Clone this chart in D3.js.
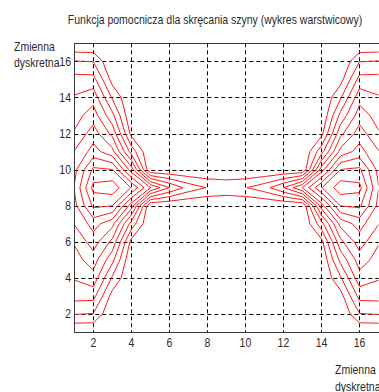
<!DOCTYPE html>
<html>
<head>
<meta charset="utf-8">
<script src="https://cdn.jsdelivr.net/npm/d3@7"></script>
<style>
  body { margin: 0; background: #fff; }
  svg { display: block; }
  text { font-family: "Liberation Sans", Arial, sans-serif; fill: #2b2b2b; }
</style>
</head>
<body>
<svg class="canvas" width="379" height="392"></svg>
<script>
// helper function values on the 17 x 17 grid, first row is y = 1
const zRows = [
  [0, 0, 0, 0, 0, 0, 0, 0, 0, 0, 0, 0, 0, 0, 0, 0, 0],
  [2.05, 1.96, 0, 0, 0, 0, 0, 0, 0, 0, 0, 0, 0, 0, 0, 1.96, 2.05],
  [3.37, 3.35, 0.6, 0, 0, 0, 0, 0, 0, 0, 0, 0, 0, 0, 0.6, 3.35, 3.37],
  [4.09, 4.63, 1.87, 0, 0, 0, 0, 0, 0, 0, 0, 0, 0, 0, 1.87, 4.63, 4.09],
  [4.6, 5.49, 3.3, 0.05, 0, 0, 0, 0, 0, 0, 0, 0, 0, 0.05, 3.3, 5.49, 4.6],
  [5.1, 6.51, 4.71, 0.7, 0, 0, 0, 0, 0, 0, 0, 0, 0, 0.7, 4.71, 6.51, 5.1],
  [6.05, 7.4, 6.33, 2.6, 0, 0, 0, 0, 0, 0, 0, 0, 0, 2.6, 6.33, 7.4, 6.05],
  [6.7, 9.2, 9.02, 5.5, 0, 0, 0, 0, 0, 0, 0, 0, 0, 5.5, 9.02, 9.2, 6.7],
  [7.05, 10.3, 10.6, 8.95, 6.05, 3.98, 2.6, 1.95, 1.75, 1.95, 2.6, 3.98, 6.05, 8.95, 10.6, 10.3, 7.05],
  [6.7, 9.2, 9.02, 5.5, 0, 0, 0, 0, 0, 0, 0, 0, 0, 5.5, 9.02, 9.2, 6.7],
  [6.05, 7.4, 6.33, 2.6, 0, 0, 0, 0, 0, 0, 0, 0, 0, 2.6, 6.33, 7.4, 6.05],
  [5.1, 6.51, 4.71, 0.7, 0, 0, 0, 0, 0, 0, 0, 0, 0, 0.7, 4.71, 6.51, 5.1],
  [4.6, 5.49, 3.3, 0.05, 0, 0, 0, 0, 0, 0, 0, 0, 0, 0.05, 3.3, 5.49, 4.6],
  [4.09, 4.63, 1.87, 0, 0, 0, 0, 0, 0, 0, 0, 0, 0, 0, 1.87, 4.63, 4.09],
  [3.37, 3.35, 0.6, 0, 0, 0, 0, 0, 0, 0, 0, 0, 0, 0, 0.6, 3.35, 3.37],
  [2.05, 1.96, 0, 0, 0, 0, 0, 0, 0, 0, 0, 0, 0, 0, 0, 1.96, 2.05],
  [0, 0, 0, 0, 0, 0, 0, 0, 0, 0, 0, 0, 0, 0, 0, 0, 0]
];
const levels = [1, 2, 3, 4, 5, 6, 7, 8, 9, 10];
const xTicks = [2, 4, 6, 8, 10, 12, 14, 16];
const yTicks = [2, 4, 6, 8, 10, 12, 14, 16];
const title = "Funkcja pomocnicza dla skręcania szyny (wykres warstwicowy)";
const axisName = ["Zmienna", "dyskretna"];

var svg = d3.select(".canvas");
var nx = zRows[0].length;
var ny = zRows.length;

var x = d3.scaleLinear().domain([1, nx]).range([74.3, 378.5]);
var y = d3.scaleLinear().domain([1, ny]).range([332, 43.3]);

// text is a bit narrower than Arial in the original
function label(sel, tx, ty, anchor) {
  return sel.append("text")
    .attr("transform", `translate(${tx},${ty}) scale(0.84,1)`)
    .attr("text-anchor", anchor)
    .style("font-size", "12.5px");
}

svg.append("defs")
  .append("clipPath")
  .attr("id", "plot-clip")
  .append("rect")
  .attr("x", x(1))
  .attr("y", y(ny))
  .attr("width", x(nx) - x(1))
  .attr("height", y(1) - y(ny));

// dashed grid
var grid = svg.append("g").attr("class", "grid")
  .attr("stroke", "#000")
  .attr("stroke-width", 1)
  .attr("stroke-dasharray", "4,3");

grid.selectAll("line.gx")
  .data(xTicks)
  .enter()
  .append("line")
  .attr("class", "gx")
  .attr("x1", d => Math.round(x(d)) + 0.5)
  .attr("x2", d => Math.round(x(d)) + 0.5)
  .attr("y1", y(ny))
  .attr("y2", y(1));

grid.selectAll("line.gy")
  .data(yTicks)
  .enter()
  .append("line")
  .attr("class", "gy")
  .attr("y1", d => Math.round(y(d)) + 0.5)
  .attr("y2", d => Math.round(y(d)) + 0.5)
  .attr("x1", x(1))
  .attr("x2", x(nx));

// contour lines, grid sample i sits at contour coordinate i + 0.5
var contours = d3.contours()
  .size([nx, ny])
  .thresholds(levels)(zRows.flat());

var toScreen = d3.geoTransform({
  point: function (cx, cy) {
    this.stream.point(x(cx + 0.5), y(cy + 0.5));
  }
});

svg.append("g")
  .attr("clip-path", "url(#plot-clip)")
  .selectAll("path")
  .data(contours)
  .enter()
  .append("path")
  .attr("d", d3.geoPath(toScreen))
  .attr("fill", "none")
  .attr("stroke", "#ff1a1a")
  .attr("stroke-width", 1)
  .attr("stroke-linejoin", "round");

// frame
svg.append("rect")
  .attr("x", Math.round(x(1)) + 0.5)
  .attr("y", Math.round(y(ny)) + 0.5)
  .attr("width", Math.round(x(nx)) - Math.round(x(1)))
  .attr("height", Math.round(y(1)) - Math.round(y(ny)))
  .attr("fill", "none")
  .attr("stroke", "#3a3a3a")
  .attr("stroke-width", 1);

// tick labels
xTicks.forEach(function (t) {
  label(svg, x(t), 347, "middle").text(t);
});
yTicks.forEach(function (t) {
  label(svg, 71, y(t) + 4.5, "end").text(t);
});

label(svg, 215, 24, "middle").text(title);

label(svg, 14, 51, "start").text(axisName[0]);
label(svg, 14, 67, "start").text(axisName[1]);
label(svg, 335, 374, "start").text(axisName[0]);
label(svg, 335, 391, "start").text(axisName[1]);
</script>
</body>
</html>
